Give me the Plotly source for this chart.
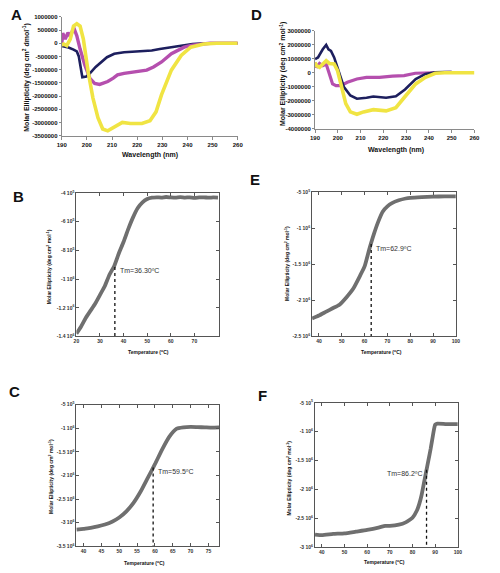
import plotly.graph_objects as go

W, H = 500, 573

# ---------------- Panel A (CD spectra) ----------------
a_navy_x = [190, 191.5, 192.7, 194.7, 196, 196.8, 197.5, 198.2, 199.8, 201.2, 203.5, 205.7, 208, 210.9, 214.8, 218, 222.6, 225.8, 229, 233.6, 238.7, 242, 245, 250, 260]
a_navy_y = [-100000, -120000, -160000, -240000, -310000, -500000, -900000, -1290000, -1260000, -1140000, -900000, -710000, -530000, -400000, -340000, -320000, -310000, -275000, -215000, -150000, -67000, -30000, -10000, 0, 0]
a_mag_x = [190, 190.4, 191.4, 192.5, 193.4, 194.3, 195, 196, 197.3, 199.2, 201.2, 203.1, 205.1, 208.3, 210.5, 212.2, 214.8, 220, 223.8, 226.5, 229.7, 233.6, 238.7, 242, 245.2, 249, 260]
a_mag_y = [-30000, 380000, 160000, 400000, 260000, 470000, 530000, 280000, -220000, -830000, -1330000, -1520000, -1560000, -1450000, -1320000, -1200000, -1140000, -1080000, -1020000, -900000, -710000, -400000, -150000, -70000, -30000, 0, 0]
a_yel_x = [190, 190.8, 192, 193.4, 194.7, 196, 197.3, 198.6, 200.5, 202.4, 204.4, 206.3, 208.3, 210.9, 214.1, 217.3, 221.9, 225.1, 227.5, 229.7, 233.6, 237.5, 241.3, 246.5, 251.7, 260]
a_yel_y = [-70000, -30000, -90000, 160000, 650000, 740000, 650000, 160000, -1080000, -2070000, -2820000, -3250000, -3320000, -3190000, -3000000, -3040000, -3040000, -2940000, -2600000, -1950000, -1020000, -460000, -150000, -30000, 0, 0]
a_yticks = [1000000, 500000, 0, -500000, -1000000, -1500000, -2000000, -2500000, -3000000, -3500000]

# ---------------- Panel D (CD spectra) ----------------
d_navy_x = [190, 191.3, 193.4, 194.9, 195.9, 197, 198.4, 200.7, 202.7, 205.5, 208.4, 212.6, 215.6, 221.2, 225.5, 229.5, 234.2, 238.5, 242.8, 247, 250]
d_navy_y = [970000, 1090000, 1670000, 1980000, 1670000, 1550000, 1090000, -90000, -1030000, -1630000, -1860000, -1790000, -1700000, -1790000, -1680000, -1200000, -450000, -90000, 30000, 50000, 50000]
d_mag_x = [190, 190.6, 192, 193.4, 194.9, 196.3, 197.7, 199.2, 201.3, 204.2, 208.4, 212.6, 218.3, 224, 229.1, 234, 239.8, 245, 250]
d_mag_y = [730000, 380000, 660000, 500000, 620000, -90000, -800000, -920000, -920000, -680000, -450000, -330000, -330000, -250000, -210000, -40000, 0, 20000, 30000]
d_yel_x = [190, 190.6, 192, 193.4, 194.9, 196.3, 198.4, 199.9, 202, 203.5, 205.5, 208.4, 211.3, 215.6, 221.2, 225.5, 229.9, 234.2, 238.5, 242.8, 247, 260]
d_yel_y = [730000, 500000, 380000, 620000, 850000, 660000, 620000, 140000, -1270000, -2210000, -2800000, -2970000, -2800000, -2640000, -2730000, -2500000, -1630000, -800000, -330000, -40000, 0, 0]
d_yticks = [3000000, 2000000, 1000000, 0, -1000000, -2000000, -3000000, -4000000]

wl_ticks = [190, 200, 210, 220, 230, 240, 250, 260]

# ---------------- Melting curves ----------------
b_t = [20, 22, 24, 26, 28, 30, 32, 34, 36, 38, 40, 42, 44, 46, 48, 50, 52, 54, 56, 58, 60, 62, 64, 66, 68, 70, 72, 74, 76, 78, 80]
b_y = [-1380000, -1330000, -1270000, -1220000, -1170000, -1110000, -1050000, -970000, -910000, -820000, -740000, -650000, -570000, -505000, -465000, -442000, -433000, -430000, -432000, -428000, -431000, -433000, -429000, -432000, -430000, -434000, -431000, -430000, -433000, -431000, -432000]
b_tm, b_tm_y = 36.3, -915000
b_yticks = [-400000, -600000, -800000, -1000000, -1200000, -1400000]
b_ytext = ["-4 10<sup>5</sup>", "-6 10<sup>5</sup>", "-8 10<sup>5</sup>", "-1 10<sup>6</sup>", "-1.2 10<sup>6</sup>", "-1.4 10<sup>6</sup>"]
b_xticks = [20, 30, 40, 50, 60, 70]

c_t = [38, 40, 42, 44, 46, 48, 50, 52, 54, 56, 58, 60, 62, 64, 66, 68, 70, 72, 74, 76, 78]
c_y = [-3150000, -3130000, -3110000, -3080000, -3040000, -2980000, -2890000, -2760000, -2580000, -2340000, -2050000, -1760000, -1450000, -1180000, -1010000, -980000, -970000, -975000, -980000, -985000, -980000]
c_tm, c_tm_y = 59.5, -1830000
c_yticks = [-500000, -1000000, -1500000, -2000000, -2500000, -3000000, -3500000]
c_ytext = ["-5 10<sup>5</sup>", "-1 10<sup>6</sup>", "-1.5 10<sup>6</sup>", "-2 10<sup>6</sup>", "-2.5 10<sup>6</sup>", "-3 10<sup>6</sup>", "-3.5 10<sup>6</sup>"]
c_xticks = [40, 45, 50, 55, 60, 65, 70, 75]

e_t = [37, 40, 43, 46, 49, 52, 55, 58, 60, 62, 64, 66, 68, 70, 72, 75, 78, 80, 85, 90, 95, 100]
e_y = [-2250000, -2210000, -2160000, -2110000, -2060000, -1960000, -1840000, -1660000, -1530000, -1300000, -1090000, -910000, -770000, -700000, -655000, -615000, -590000, -580000, -570000, -565000, -560000, -560000]
e_tm, e_tm_y = 62.9, -1220000
e_yticks = [-500000, -1000000, -1500000, -2000000, -2500000]
e_ytext = ["-5 10<sup>5</sup>", "-1 10<sup>6</sup>", "-1.5 10<sup>6</sup>", "-2 10<sup>6</sup>", "-2.5 10<sup>6</sup>"]
e_xticks = [40, 50, 60, 70, 80, 90, 100]

f_t = [37, 40, 45, 50, 55, 60, 65, 68, 70, 74, 77, 79, 80, 82, 83, 84, 85, 86, 87, 88, 89, 90, 91, 95, 100]
f_y = [-2780000, -2790000, -2770000, -2760000, -2730000, -2700000, -2660000, -2630000, -2630000, -2610000, -2570000, -2520000, -2490000, -2360000, -2250000, -2100000, -1900000, -1700000, -1500000, -1300000, -1070000, -880000, -860000, -870000, -870000]
f_tm, f_tm_y = 86.2, -1660000
f_yticks = [-500000, -1000000, -1500000, -2000000, -2500000, -3000000]
f_ytext = ["-5 10<sup>5</sup>", "-1 10<sup>6</sup>", "-1.5 10<sup>6</sup>", "-2 10<sup>6</sup>", "-2.5 10<sup>6</sup>", "-3 10<sup>6</sup>"]
f_xticks = [40, 50, 60, 70, 80, 90, 100]

NAVY, MAG, YEL, GREY = "#1d1f5e", "#b54fae", "#f0e443", "#6f6f6f"
FONT = "Liberation Sans, Arial, sans-serif"

fig = go.Figure()
layout = dict(width=W, height=H, margin=dict(l=0, r=0, t=0, b=0),
              paper_bgcolor="white", plot_bgcolor="white", showlegend=False,
              font=dict(family=FONT, color="#222"))
annots = []


def px2x(px):
    return px / W


def py2y(py):
    return 1 - py / H


def add_axes(i, box, xr, yr, xt, yt, ytext, cd):
    xl, xr_px, yt_px, yb_px = box
    xa = dict(domain=[px2x(xl), px2x(xr_px)], range=xr, anchor="y%d" % i if i > 1 else "y",
              tickvals=xt, ticktext=["<b>%s</b>" % v for v in xt],
              showgrid=False, zeroline=False, showline=True)
    ya = dict(domain=[py2y(yb_px), py2y(yt_px)], range=yr, anchor="x%d" % i if i > 1 else "x",
              tickvals=yt, ticktext=["<b>%s</b>" % v for v in ytext],
              showgrid=False, zeroline=False, showline=True)
    if cd:
        for a in (xa, ya):
            a.update(linecolor="#8a8a8a", linewidth=1, ticks="outside", ticklen=3,
                     tickcolor="#8a8a8a", tickfont=dict(size=6, color="#111"), mirror=False)
        ya.update(ticklen=2)
    else:
        for a in (xa, ya):
            a.update(linecolor="#555", linewidth=1, ticks="inside", ticklen=3,
                     tickcolor="#555", tickfont=dict(size=5, color="#333"), mirror="ticks")
    layout["xaxis%d" % i if i > 1 else "xaxis"] = xa
    layout["yaxis%d" % i if i > 1 else "yaxis"] = ya


def refs(i):
    return ("x%d" % i, "y%d" % i) if i > 1 else ("x", "y")


# --- CD panels ---
add_axes(1, (58, 238, 14, 134), [190, 260], [-3500000, 1000000], wl_ticks, a_yticks, a_yticks, True)
add_axes(2, (317, 480, 28, 127), [190, 260], [-4000000, 3000000], wl_ticks, d_yticks, d_yticks, True)
for i, series in ((1, [(a_navy_x, a_navy_y, NAVY, 2.6), (a_mag_x, a_mag_y, MAG, 3.4), (a_yel_x, a_yel_y, YEL, 3.6)]),
                  (2, [(d_mag_x, d_mag_y, MAG, 3.2), (d_navy_x, d_navy_y, NAVY, 2.6), (d_yel_x, d_yel_y, YEL, 3.6)])):
    xr_, yr_ = refs(i)
    for x, y, c, w in series:
        fig.add_trace(go.Scatter(x=x, y=y, mode="lines", line=dict(color=c, width=w),
                                 xaxis=xr_, yaxis=yr_, hoverinfo="skip"))

# --- melting panels ---
melt = [
    (3, (73, 219, 192, 337), [20, 80.5], [-1400000, -400000], b_xticks, b_yticks, b_ytext, b_t, b_y, b_tm, b_tm_y, "Tm=36.30ºC", "left"),
    (4, (314, 461, 191, 337), [37, 100], [-2500000, -500000], e_xticks, e_yticks, e_ytext, e_t, e_y, e_tm, e_tm_y, "Tm=62.9ºC", "left"),
    (5, (73, 219, 406, 549), [38, 78], [-3500000, -500000], c_xticks, c_yticks, c_ytext, c_t, c_y, c_tm, c_tm_y, "Tm=59.5ºC", "left"),
    (6, (317, 463, 404, 550), [37, 100], [-3000000, -500000], f_xticks, f_yticks, f_ytext, f_t, f_y, f_tm, f_tm_y, "Tm=86.2ºC", "right"),
]
for i, box, xr, yr, xt, yt, ytext, tx, ty, tm, tmy, label, side in melt:
    add_axes(i, box, xr, yr, xt, yt, ytext, False)
    xr_, yr_ = refs(i)
    fig.add_trace(go.Scatter(x=tx, y=ty, mode="lines", line=dict(color=GREY, width=3.8, shape="spline", smoothing=0.5),
                             xaxis=xr_, yaxis=yr_, hoverinfo="skip"))
    fig.add_trace(go.Scatter(x=[tm, tm], y=[tmy, yr[0]], mode="lines", line=dict(color="#111", width=1.3, dash="dot"),
                             xaxis=xr_, yaxis=yr_, hoverinfo="skip"))
    annots.append(dict(x=tm, y=tmy, xref=xr_, yref=yr_, text=label, showarrow=False,
                       xanchor=side, yanchor="middle", xshift=3 if side == "left" else -3, yshift=-4,
                       font=dict(size=7, color="#333", family=FONT)))

# --- axis titles ---
def title(px, py, text, size, angle=0):
    annots.append(dict(x=px2x(px), y=py2y(py), xref="paper", yref="paper", text=text, showarrow=False,
                       textangle=angle, xanchor="center", yanchor="middle",
                       font=dict(size=size, color="#111", family=FONT)))

title(22, 75, "<b>Molar Ellipticity (deg cm<sup>2</sup> dmol<sup>-1</sup>)</b>", 7, -90)
title(148, 154, "<b>Wavelength (nm)</b>", 7)
title(284, 72, "<b>Molar Ellipticity (deg cm<sup>2</sup> mol<sup>-1</sup>)</b>", 7, -90)
title(400, 149, "<b>Wavelength (nm)</b>", 7)

title(45, 267, "<b>Molar Ellipticity (deg cm<sup>2</sup> mol<sup>-1</sup>)</b>", 5, -90)
title(147, 353, "<b>Temperature (<sup>o</sup>C)</b>", 5)
title(289, 263, "<b>Molar Ellipticity (deg cm<sup>2</sup> mol<sup>-1</sup>)</b>", 5, -90)
title(385, 353, "<b>Temperature (<sup>o</sup>C)</b>", 5)
title(47, 478, "<b>Molar Ellipticity (deg cm<sup>2</sup> mol<sup>-1</sup>)</b>", 5, -90)
title(143, 566, "<b>Temperature (<sup>o</sup>C)</b>", 5)
title(290, 480, "<b>Molar Ellipticity (deg cm<sup>2</sup> mol<sup>-1</sup>)</b>", 5, -90)
title(388, 565, "<b>Temperature (<sup>o</sup>C)</b>", 5)

# --- panel letters ---
for px, py, t in ((12, 12, "A"), (257, 12, "D"), (14, 196, "B"), (256, 178, "E"), (10, 393, "C"), (263, 397, "F")):
    title(px, py, "<b>%s</b>" % t, 15)

layout["annotations"] = annots
fig.update_layout(**layout)
fig.write_html("out.html", config={"displayModeBar": False},
               post_script="document.body.style.margin='0';document.body.style.padding='0';")
